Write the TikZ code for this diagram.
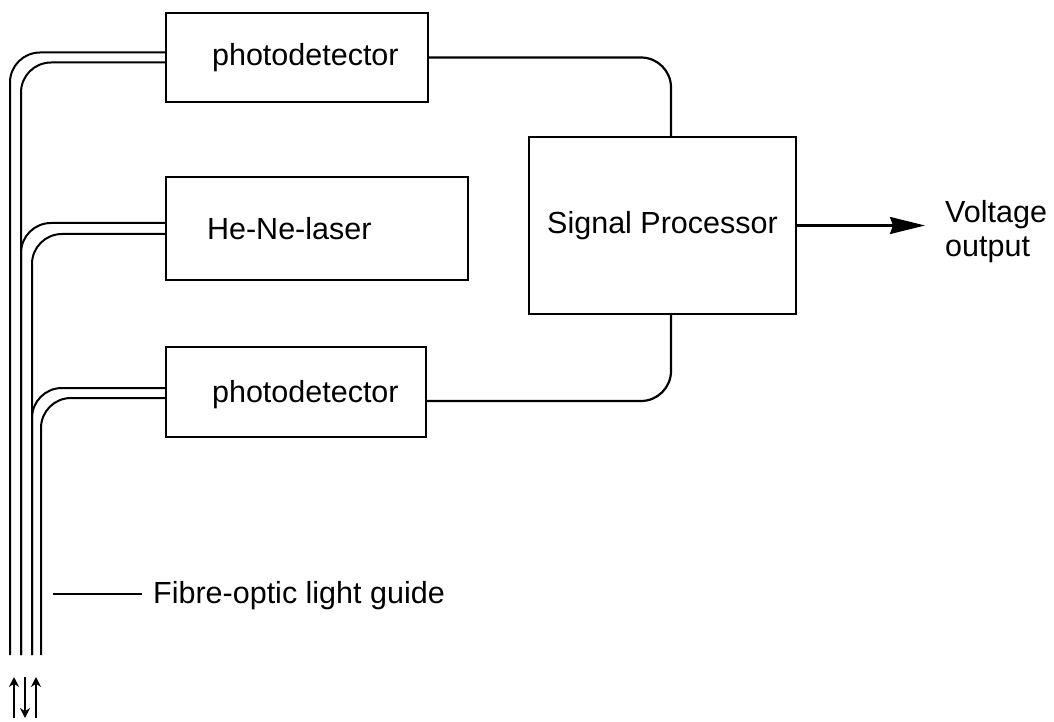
\documentclass[tikz,border=0pt]{standalone}
\usepackage{fontspec}
\setmainfont{Liberation Sans}
\usetikzlibrary{arrows.meta,positioning}

\begin{document}
\begin{tikzpicture}[x=1pt,y=1pt,
    unit/.style={draw, line width=2.2pt, inner sep=0pt},
    fibre/.style={line width=2pt, rounded corners=30pt},
    wire/.style={line width=2.2pt, rounded corners=30pt},
    every node/.style={font=\fontsize{30.5}{34}\selectfont}]
    \useasboundingbox (0,0) rectangle (1054,721);
    % boxes
    \node[unit, minimum width=262pt, minimum height=89pt] (pdTop) at (297,663.5) {};
    \node[unit, minimum width=302pt, minimum height=103pt] (laser) at (317,492.5) {};
    \node[unit, minimum width=260pt, minimum height=90pt] (pdBot) at (296,329) {};
    \node[unit, minimum width=267pt, minimum height=177pt] (sp) at (662.5,495.5) {Signal Processor};
    \node[inner sep=0pt, right=47pt of pdTop.west] (pdTopTxt) {photodetector};
    \node[inner sep=0pt, right=42pt of laser.west] (laserTxt) {He-Ne-laser};
    \node[inner sep=0pt, right=47pt of pdBot.west, yshift=-3pt] (pdBotTxt) {photodetector};
    % fibre bundle
    \coordinate (f1) at (10,66);
    \coordinate (f2) at (21,66);
    \coordinate (f3) at (32,66);
    \coordinate (f4) at (41,66);
    \draw[fibre] (f1) |- ([yshift=5pt]pdTop.west);
    \draw[fibre] (f2) |- ([yshift=-5pt]pdTop.west);
    \draw[fibre] (f2) |- ([yshift=5.5pt]laser.west);
    \draw[fibre] (f3) |- ([yshift=-5.5pt]laser.west);
    \draw[fibre] (f3) |- ([yshift=4pt]pdBot.west);
    \draw[fibre] (f4) |- ([yshift=-6pt]pdBot.west);
    % signal lines
    \draw[wire] (pdTop.east) -| ([xshift=8.5pt]sp.north);
    \draw[wire] ([yshift=-9pt]pdBot.east) -| ([xshift=8.5pt]sp.south);
    \coordinate (outTip) at (925,495);
    \draw[line width=2.2pt, -{Stealth[length=35pt,width=17pt,inset=3pt]}] (sp.east) -- (sp.east -| outTip);
    \node[inner sep=0pt, right=20pt of outTip, yshift=-6pt, align=left] (vout) {Voltage\\output};
    % label of the guide
    \coordinate (guideEnd) at (53,127);
    \node[inner sep=0pt, anchor=west] (guideTxt) at (153,125) {Fibre-optic light guide};
    \draw[line width=2pt, shorten >=11pt] (guideEnd) -- (guideEnd -| guideTxt.west);
    % light directions
    \coordinate (a1) at (14,3);
    \coordinate (a2) at (25,44);
    \coordinate (a3) at (36,3);
    \draw[line width=2pt, -{Stealth[length=10pt,width=10pt]}] (a1) -- ++(0,41);
    \draw[line width=2pt, -{Stealth[length=10pt,width=10pt]}] (a2) -- ++(0,-41);
    \draw[line width=2pt, -{Stealth[length=10pt,width=10pt]}] (a3) -- ++(0,41);
\end{tikzpicture}
\end{document}
